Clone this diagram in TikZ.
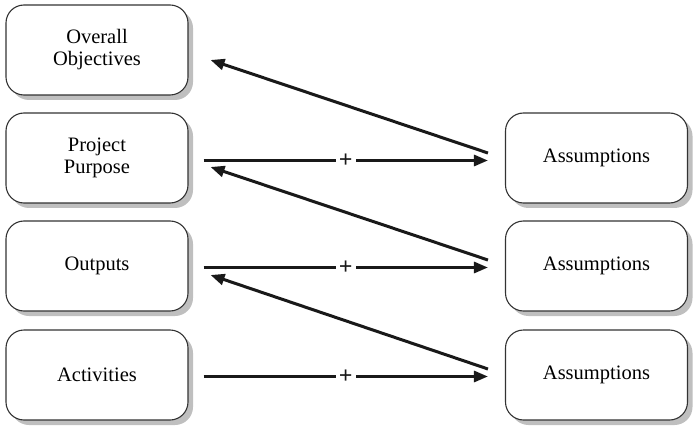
\documentclass[tikz,border=0pt]{standalone}
\usepackage{fontspec}
\setmainfont{Liberation Serif}
\usetikzlibrary{arrows.meta,shadows}
\begin{document}
\begin{tikzpicture}[x=1pt,y=1pt,
  box/.style={draw=black!80,line width=1.1pt,rounded corners=18pt,fill=white,
    minimum width=182pt,minimum height=90pt,align=center,
    font=\fontsize{20.5}{22}\selectfont,
    drop shadow={shadow xshift=5pt,shadow yshift=-5pt,fill=black!25,opacity=1}},
  arr/.style={line width=3pt,-{Triangle[length=14pt,width=11pt]},black!90},
  plus/.style={fill=white,inner xsep=3pt,inner ysep=1pt,font=\fontsize{24}{24}\selectfont\bfseries}]
\useasboundingbox (0,0) rectangle (700,434);
\node[box] (oo) at (97,384) {Overall\\Objectives};
\node[box] (pp) at (97,276) {Project\\Purpose};
\node[box] (ou) at (97,168) {Outputs};
\node[box] (ac) at (97,59) {Activities};
\node[box] (a1) at (596.5,276) {Assumptions};
\node[box] (a2) at (596.5,168) {Assumptions};
\node[box] (a3) at (596.5,59) {Assumptions};
\draw[arr] ([xshift=15pt,yshift=-2.5pt]pp.east) -- node[plus]{+} ([xshift=-17pt,yshift=-2.5pt]a1.west);
\draw[arr] ([xshift=15pt,yshift=-1.5pt]ou.east) -- node[plus]{+} ([xshift=-17pt,yshift=-1.5pt]a2.west);
\draw[arr] ([xshift=15pt,yshift=-1.5pt]ac.east) -- node[plus]{+} ([xshift=-17pt,yshift=-1.5pt]a3.west);
\draw[arr] ([xshift=-17pt,yshift=5pt]a1.west) -- ([xshift=22pt,yshift=-10pt]oo.east);
\draw[arr] ([xshift=-17pt,yshift=6pt]a2.west) -- ([xshift=22pt,yshift=-9pt]pp.east);
\draw[arr] ([xshift=-17pt,yshift=6pt]a3.west) -- ([xshift=22pt,yshift=-9pt]ou.east);
\end{tikzpicture}
\end{document}
